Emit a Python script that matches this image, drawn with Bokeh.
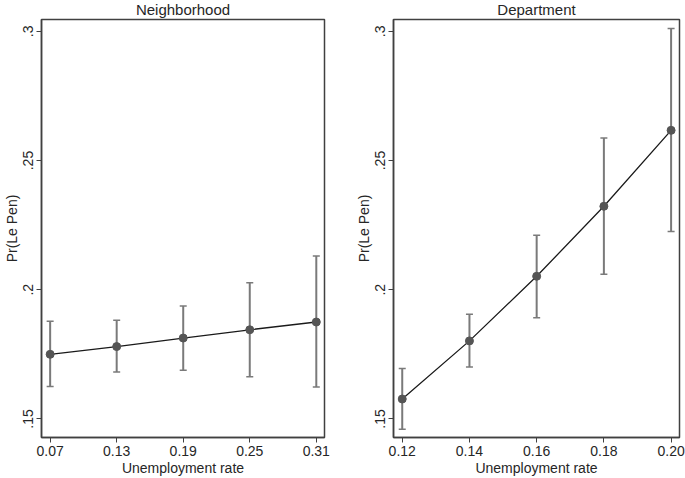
from bokeh.plotting import figure
from bokeh.layouts import row
from bokeh.models import FixedTicker, Range1d, Whisker, ColumnDataSource, TeeHead
from bokeh.embed import file_html
from bokeh.resources import INLINE

# Neighborhood panel
nb_x = [0.07, 0.13, 0.19, 0.25, 0.31]
nb_y = [0.175, 0.178, 0.1813, 0.1845, 0.1875]
nb_lo = [0.1625, 0.1682, 0.1688, 0.1663, 0.1623]
nb_hi = [0.1878, 0.1882, 0.1937, 0.2027, 0.2131]
nb_tick_labels = ["0.07", "0.13", "0.19", "0.25", "0.31"]

# Department panel
dp_x = [0.12, 0.14, 0.16, 0.18, 0.20]
dp_y = [0.1577, 0.1802, 0.2052, 0.2323, 0.2617]
dp_lo = [0.146, 0.1701, 0.1892, 0.2060, 0.2225]
dp_hi = [0.1695, 0.1905, 0.2211, 0.2587, 0.3011]
dp_tick_labels = ["0.12", "0.14", "0.16", "0.18", "0.20"]

y_ticks = [0.15, 0.2, 0.25, 0.3]
y_tick_labels = [".15", ".2", ".25", ".3"]

FONT = "Liberation Sans"
TXT = "#262626"


def panel(title, xs, ys, lo, hi, xlabels, xr, width, bl, br):
    p = figure(width=width, height=478, output_backend="svg", toolbar_location=None,
               x_range=Range1d(*xr), y_range=Range1d(0.1428, 0.3046),
               min_border_left=bl, min_border_right=br, min_border_top=18,
               min_border_bottom=40)
    p.title.text = title
    p.title.align = "center"
    p.title.vertical_align = "top"
    p.title.text_font = FONT
    p.title.text_font_size = "15px"
    p.title.text_font_style = "normal"
    p.title.text_color = TXT
    p.title.standoff = 0
    p.grid.visible = False
    p.outline_line_color = "#404040"
    p.outline_line_width = 1.5
    p.background_fill_color = "white"
    p.border_fill_color = "white"

    src = ColumnDataSource(dict(x=xs, y=ys, lo=lo, hi=hi))
    w = Whisker(base="x", upper="hi", lower="lo", source=src,
                line_color="#7a7a7a", line_width=2,
                upper_head=TeeHead(size=7, line_color="#7a7a7a", line_width=1.5),
                lower_head=TeeHead(size=7, line_color="#7a7a7a", line_width=1.5))
    p.add_layout(w)
    p.line("x", "y", source=src, line_color="#1a1a1a", line_width=1.3)
    p.scatter("x", "y", source=src, size=8, fill_color="#555555", line_color="#555555")

    p.xaxis.ticker = FixedTicker(ticks=xs)
    p.xaxis.major_label_overrides = {x: l for x, l in zip(xs, xlabels)}
    p.yaxis.ticker = FixedTicker(ticks=y_ticks)
    p.yaxis.major_label_overrides = {t: l for t, l in zip(y_ticks, y_tick_labels)}
    p.yaxis.major_label_orientation = "vertical"
    p.xaxis.axis_label = "Unemployment rate"
    p.yaxis.axis_label = "Pr(Le Pen)"
    for ax in (p.xaxis[0], p.yaxis[0]):
        ax.axis_line_color = "#404040"
        ax.axis_line_width = 1.5
        ax.major_tick_line_color = "#404040"
        ax.major_tick_out = 5
        ax.major_tick_in = 0
        ax.minor_tick_line_color = None
        ax.major_label_text_font = FONT
        ax.major_label_text_font_size = "14px"
        ax.major_label_text_color = TXT
        ax.axis_label_text_font = FONT
        ax.axis_label_text_font_size = "14px"
        ax.axis_label_text_font_style = "normal"
        ax.axis_label_text_color = TXT
        ax.major_label_standoff = 3
        ax.axis_label_standoff = 1
    return p


p1 = panel("Neighborhood", nb_x, nb_y, nb_lo, nb_hi, nb_tick_labels,
           (0.0622, 0.3174), 340, 39, 16)
p2 = panel("Department", dp_x, dp_y, dp_lo, dp_hi, dp_tick_labels,
           (0.1174, 0.2025), 345, 53, 6)

layout = row(p1, p2)
open("out.html", "w").write(file_html(layout, INLINE))
